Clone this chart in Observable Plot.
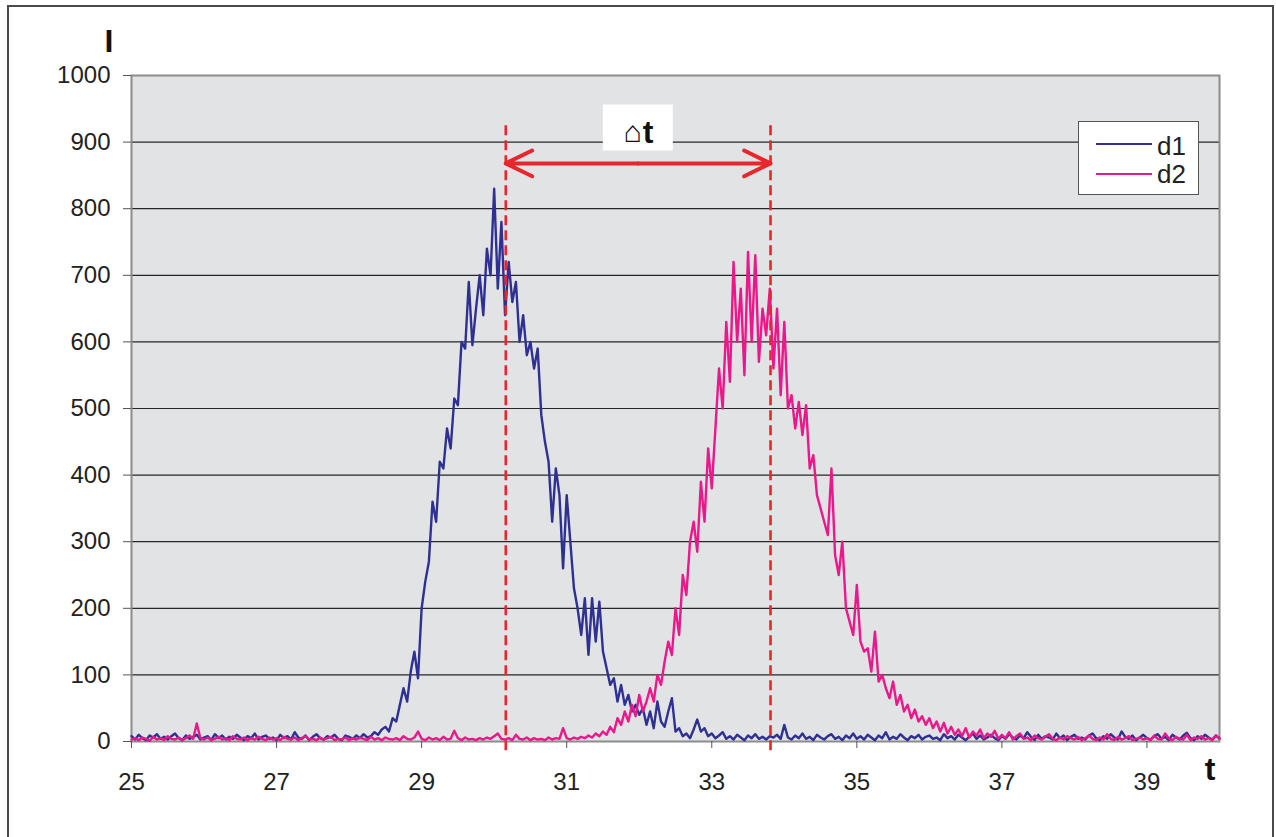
<!DOCTYPE html>
<html>
<head>
<meta charset="utf-8">
<script src="https://cdn.jsdelivr.net/npm/d3@7"></script>
<script src="https://cdn.jsdelivr.net/npm/@observablehq/plot@0.6"></script>
<style>
html,body{margin:0;padding:0;background:#fff;}
#wrap{position:relative;width:1276px;height:837px;overflow:hidden;background:#fff;font-family:"Liberation Sans",Arial,sans-serif;}
#border{position:absolute;left:7px;top:5px;width:1267px;height:900px;border:2px solid #4a4a4a;box-sizing:border-box;}
#chart{position:absolute;left:0;top:0;}
#legend{position:absolute;left:1078px;top:121px;width:121px;height:74px;box-sizing:border-box;border:1px solid #555;background:#fff;}
#legend .sw{position:absolute;left:17px;width:56px;height:2px;}
#legend .lb{position:absolute;left:78px;font-size:26px;line-height:1;color:#222;}
</style>
</head>
<body>
<div id="wrap">
  <div id="border"></div>
  <div id="chart"></div>
  <div id="legend"></div>
</div>
<script>
// ---- data ----
const t0 = 25;        // first sample time
const dt = 0.05;      // sample spacing
const seriesNames = ["d1", "d2"];
const seriesColors = ["#2e3192", "#e8198b"];

const d1 = [
  8,3,10,5,2,9,6,11,4,7,3,8,12,5,2,9,4,7,10,3,
  6,8,2,11,5,9,3,7,4,10,6,2,8,5,12,3,7,9,4,6,
  2,10,5,8,3,14,6,4,9,2,7,11,5,3,8,6,10,4,2,9,
  7,4,9,5,11,6,8,14,10,18,22,15,35,30,55,80,60,105,135,95,
  200,240,270,360,330,420,410,470,440,515,505,600,590,690,595,650,700,640,740,700,
  830,680,780,640,720,660,690,600,640,580,600,560,590,490,450,420,330,410,370,260,
  370,300,230,200,160,215,130,215,150,210,135,110,85,95,60,85,55,70,45,55,
  40,50,25,45,20,60,30,22,45,65,15,20,8,12,5,18,33,15,20,8,
  12,5,9,14,4,8,3,10,6,2,9,5,11,4,7,3,8,6,10,4,
  25,6,3,9,5,12,4,7,2,10,6,3,8,11,4,7,2,9,5,12,
  4,8,3,10,6,2,9,5,14,3,7,4,11,6,2,8,5,10,3,7,
  9,4,6,2,11,5,8,3,10,6,2,7,12,4,9,3,6,10,5,2,
  8,4,11,6,3,9,5,14,7,2,10,4,8,6,3,12,5,9,2,7,
  10,4,6,3,9,12,5,2,8,4,11,6,3,15,7,4,9,2,6,10,
  5,3,8,11,4,7,2,10,6,3,9,13,5,2,8,4,10,6,3,9,
  5
];

const d2 = [
  3,5,2,6,4,1,7,3,5,2,8,4,3,6,2,5,9,4,27,5,
  3,6,2,4,7,3,5,2,8,4,3,6,2,5,3,7,4,2,6,3,
  5,2,7,4,3,6,2,5,8,3,4,2,6,3,5,7,2,4,3,6,
  2,5,3,6,4,2,7,3,5,2,6,4,3,5,2,8,4,3,6,15,
  4,2,6,3,5,2,7,3,4,16,5,2,6,3,4,2,5,3,6,4,
  8,12,4,3,5,2,10,4,3,6,2,5,3,4,2,6,3,5,4,20,
  5,3,6,4,7,5,9,6,12,8,15,10,22,14,35,25,45,30,55,38,
  70,45,60,80,60,100,85,120,150,130,200,160,250,220,300,330,285,390,330,440,
  380,470,560,500,630,540,720,600,680,550,735,600,730,570,650,610,680,560,650,520,
  630,500,520,470,510,460,505,410,430,370,350,330,310,410,280,250,300,200,180,160,
  235,150,135,140,105,165,90,100,80,65,90,55,70,45,55,35,48,30,38,25,
  35,20,30,15,28,12,22,10,18,8,20,6,15,9,18,5,12,7,16,4,
  10,5,14,3,8,12,4,6,2,9,5,3,7,11,4,2,6,3,8,5,
  3,7,2,5,9,4,2,6,3,11,4,2,7,3,5,8,2,4,6,3,
  5,2,9,4,3,12,5,2,7,4,3,10,2,6,4,8,3,5,2,9,
  4
];

const xTicks = [25, 27, 29, 31, 33, 35, 37, 39];
const yTicks = [0, 100, 200, 300, 400, 500, 600, 700, 800, 900, 1000];
const xDomain = [25, 40];
const yDomain = [0, 1000];

const markerTimes = [30.16, 33.81];   // red dashed lines
const markerSpan = [-14, 930];        // vertical extent of dashed lines (I units)
const arrowLevel = 868;               // height of the double arrow
const deltaLabel = [{t: 31.98, v: 922, sym: "\u2302", var: "t"}];
const axisLabelY = "I";
const axisLabelX = "t";

// ---- build ----
const rows = (s, name) => s.map((v, i) => ({t: +(t0 + i * dt).toFixed(2), v, name}));
const mid = (markerTimes[0] + markerTimes[1]) / 2;
const arrowRows = markerTimes.map(m => ({x1: mid, x2: m, y: arrowLevel}));
const red = "#e8262d";
const boxSymbol = {draw(ctx) { ctx.rect(-35, -23, 70, 46); }};

const chart = Plot.plot({
  width: 1276,
  height: 837,
  marginLeft: 131,
  marginRight: 57,
  marginTop: 75,
  marginBottom: 96,
  style: {fontFamily: '"Liberation Sans", Arial, sans-serif', fontSize: "24px", color: "#222", background: "transparent", overflow: "visible"},
  x: {domain: xDomain},
  y: {domain: yDomain},
  marks: [
    Plot.frame({fill: "#e2e3e5", stroke: null}),
    Plot.ruleY(yTicks.slice(1, -1), {stroke: "#262626", strokeWidth: 1.2}),
    Plot.frame({stroke: "#8c8c8c", strokeWidth: 2}),
    Plot.line(rows(d1, seriesNames[0]), {x: "t", y: "v", stroke: seriesColors[0], strokeWidth: 2.4, strokeLinejoin: "round"}),
    Plot.line(rows(d2, seriesNames[1]), {x: "t", y: "v", stroke: seriesColors[1], strokeWidth: 2.4, strokeLinejoin: "round"}),
    Plot.ruleX(markerTimes, {y1: markerSpan[0], y2: markerSpan[1], stroke: red, strokeWidth: 2.6, strokeDasharray: "10,5"}),
    Plot.arrow(arrowRows, {x1: "x1", x2: "x2", y1: "y", y2: "y", stroke: red, strokeWidth: 4, headLength: 11, headAngle: 52, strokeLinecap: "round", strokeLinejoin: "round"}),
    Plot.dot(deltaLabel, {x: "t", y: "v", symbol: boxSymbol, fill: "white", stroke: null, r: 10}),
    Plot.text(deltaLabel, {x: "t", y: "v", text: "sym", textAnchor: "end", dx: 4, dy: 5, fontSize: 30, fill: "#111"}),
    Plot.text(deltaLabel, {x: "t", y: "v", text: "var", textAnchor: "start", dx: 5, dy: 5, fontSize: 32, fontWeight: "bold", fill: "#111"}),
    Plot.axisX(xTicks, {tickSize: 7, tickPadding: 24, fontSize: 24, stroke: "#555", fill: "#222", label: null, tickFormat: d => String(d)}),
    Plot.axisY(yTicks, {tickSize: 8, tickPadding: 13, fontSize: 24, stroke: "#555", fill: "#222", label: null, tickFormat: d => String(d)}),
    Plot.text([axisLabelY], {frameAnchor: "top-left", dx: -27, dy: -46, fontSize: 32, fontWeight: "bold", fill: "#111"}),
    Plot.text([axisLabelX], {frameAnchor: "bottom-right", dx: -4, dy: 38, fontSize: 32, fontWeight: "bold", fill: "#111"})
  ]
});
document.getElementById("chart").appendChild(chart);

// legend
const legend = document.getElementById("legend");
seriesNames.forEach((n, i) => {
  const sw = document.createElement("div");
  sw.className = "sw";
  sw.style.top = (21 + i * 30) + "px";
  sw.style.background = seriesColors[i];
  legend.appendChild(sw);
  const lb = document.createElement("div");
  lb.className = "lb";
  lb.style.top = (11 + i * 28) + "px";
  lb.textContent = n;
  legend.appendChild(lb);
});
</script>
</body>
</html>
